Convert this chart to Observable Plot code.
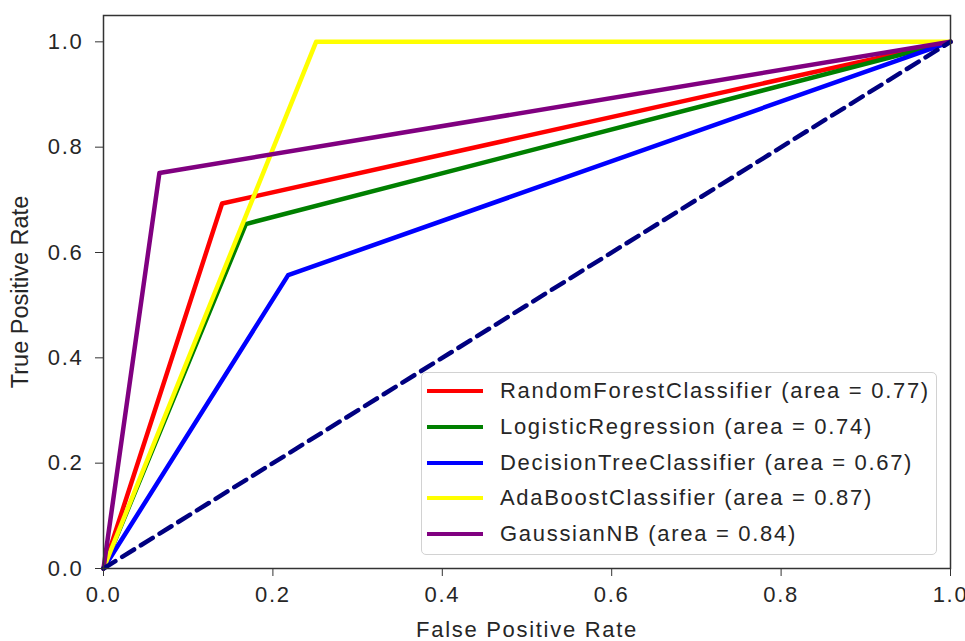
<!DOCTYPE html>
<html>
<head>
<meta charset="utf-8">
<script src="https://cdn.jsdelivr.net/npm/d3@7"></script>
<script src="https://cdn.jsdelivr.net/npm/@observablehq/plot@0.6"></script>
<style>
  html, body { margin: 0; padding: 0; background: #fff; }
  #wrap { position: relative; width: 965px; height: 641px; overflow: hidden; }
  #wrap svg { font-family: "Liberation Sans", Arial, sans-serif; }
  #wrap svg g[aria-label="x-axis tick label"] text,
  #wrap svg g[aria-label="y-axis tick label"] text,
  #wrap svg g[aria-label="x-axis label"] text { letter-spacing: 1.7px; }
  #wrap svg g[aria-label="y-axis label"] text { font-size: 23.5px; }
  #legend {
    position: absolute; left: 421px; top: 372px; width: 516px; height: 183px;
    box-sizing: border-box; border: 1.5px solid #d2d2d2; border-radius: 5px;
    background: rgba(255,255,255,0.85);
    font-family: "Liberation Sans", Arial, sans-serif; font-size: 22px;
    letter-spacing: 1.7px; color: #262626;
  }
  .row { position: absolute; left: 0; height: 30px; display: flex; align-items: center; white-space: nowrap; }
  .sw { width: 56px; height: 4.5px; margin-left: 5px; margin-right: 17px; }
</style>
</head>
<body>
<div id="wrap"></div>
<script>
// ---- data ----
const models = ["RandomForestClassifier", "LogisticRegression", "DecisionTreeClassifier", "AdaBoostClassifier", "GaussianNB"];
const aucs = [0.77, 0.74, 0.67, 0.87, 0.84];
const colors = ["red", "green", "blue", "yellow", "purple"];
const fprs = [
  [0, 0.140, 1],
  [0, 0.168, 1],
  [0, 0.218, 1],
  [0, 0.251, 1],
  [0, 0.066, 1]
];
const tprs = [
  [0, 0.693, 1],
  [0, 0.654, 1],
  [0, 0.557, 1],
  [0, 1.000, 1],
  [0, 0.751, 1]
];
const chanceX = [0, 1];
const chanceY = [0, 1];
const xTicks = [0, 0.2, 0.4, 0.6, 0.8, 1.0];
const yTicks = [0, 0.2, 0.4, 0.6, 0.8, 1.0];

// ---- build ----
const rows = [];
models.forEach((m, i) => {
  fprs[i].forEach((f, j) => rows.push({model: m, fpr: f, tpr: tprs[i][j]}));
});
const chance = chanceX.map((x, i) => ({fpr: x, tpr: chanceY[i]}));

const lineMarks = models.map((m, i) =>
  Plot.line(rows.filter(d => d.model === m), {x: "fpr", y: "tpr", stroke: colors[i], strokeWidth: 4.5})
);

const chart = Plot.plot({
  width: 965,
  height: 641,
  marginLeft: 103,
  marginRight: 15,
  marginTop: 15,
  marginBottom: 73,
  style: {fontSize: "22px", color: "#262626", background: "#fff"},
  x: {domain: [0, 1]},
  y: {domain: [0, 1.05]},
  marks: [
    ...lineMarks,
    Plot.line(chance, {x: "fpr", y: "tpr", stroke: "navy", strokeWidth: 4.5, strokeDasharray: "14,8"}),
    Plot.frame({stroke: "#333", strokeWidth: 1.5}),
    Plot.axisX({ticks: xTicks, tickFormat: d3.format(".1f"), tickSize: 8, tickPadding: 10, stroke: "#333",
      label: "False Positive Rate", labelAnchor: "center", labelOffset: 68, labelArrow: "none"}),
    Plot.axisY({ticks: yTicks, tickFormat: d3.format(".1f"), tickSize: 8, tickPadding: 12, stroke: "#333",
      label: "True Positive Rate", labelAnchor: "center", labelOffset: 92, labelArrow: "none"})
  ]
});
const wrap = document.getElementById("wrap");
wrap.appendChild(chart);

// legend
const legend = document.createElement("div");
legend.id = "legend";
const rowTops = [3, 39, 75, 110, 146];
models.forEach((m, i) => {
  const r = document.createElement("div");
  r.className = "row";
  r.style.top = rowTops[i] + "px";
  const sw = document.createElement("div");
  sw.className = "sw";
  sw.style.background = colors[i];
  const t = document.createElement("span");
  t.textContent = `${m} (area = ${aucs[i].toFixed(2)})`;
  r.appendChild(sw); r.appendChild(t);
  legend.appendChild(r);
});
wrap.appendChild(legend);
</script>
</body>
</html>
